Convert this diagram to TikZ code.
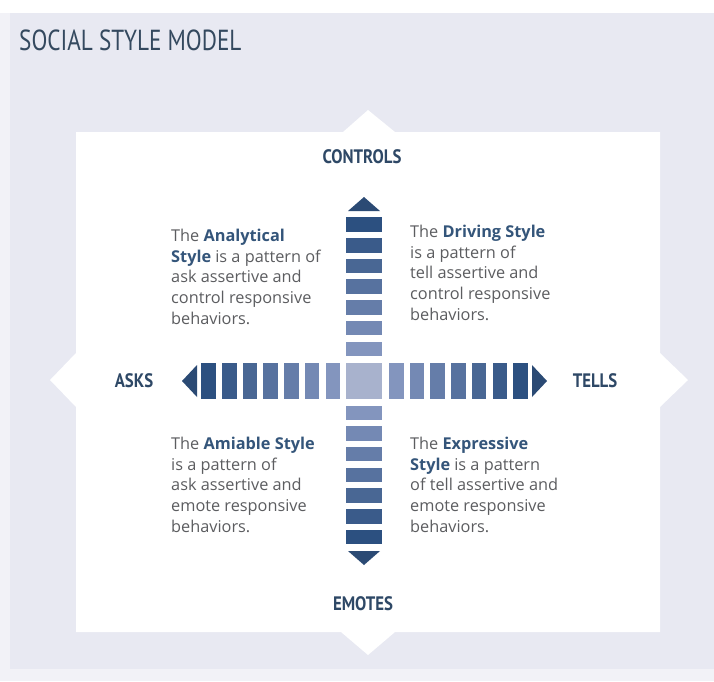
\documentclass[tikz,border=0pt]{standalone}
\usepackage{fontspec}
\setmainfont{Open Sans}
\newfontfamily\labelfont[FakeStretch=0.86]{PT Sans}
\newfontfamily\titlefont[FakeStretch=0.80]{PT Sans}
\definecolor{pagebg}{HTML}{E8E9F2}
\definecolor{pageedge}{HTML}{F2F2F7}
\definecolor{titleblue}{HTML}{34495F}
\definecolor{labelblue}{HTML}{2E4866}
\definecolor{bodygray}{HTML}{5C5D60}
\definecolor{namesblue}{HTML}{34557A}
\definecolor{bardark}{HTML}{2C5080}
\definecolor{barlight}{HTML}{8395BE}
\definecolor{barcenter}{HTML}{A8B2CD}
\definecolor{arrowblue}{HTML}{2B4A74}
\tikzset{
  axislabel/.style={font={\labelfont\bfseries\fontsize{19.5}{22}\selectfont}, text=labelblue, inner sep=0pt},
  stylepara/.style={font={\fontsize{16.3}{20.7}\selectfont}, text=bodygray, align=left, inner sep=0pt, anchor=north west},
}
\newcommand{\stylename}[1]{\textcolor{namesblue}{\bfseries #1}}
\begin{document}
\begin{tikzpicture}[x=1pt,y=-1pt]
\useasboundingbox (0,0) rectangle (714,681);
% page background
\fill[pageedge] (0,0) rectangle (714,681);
\fill[white] (0,0) rectangle (714,13);
\fill[pagebg] (10,13) rectangle (714,669);
% white panel with a pointed tab on each side
\fill[white] (76,132) -- (343,132) -- (368,110) -- (395,132) -- (660,132)
  -- (660,353) -- (688,380) -- (660,407) -- (660,632)
  -- (395,632) -- (368,655) -- (341,632) -- (76,632)
  -- (76,407) -- (50,380) -- (76,353) -- cycle;
% title
\node[font={\titlefont\fontsize{29}{32}\selectfont}, text=titleblue, anchor=west, inner sep=0pt] (title) at (19,40) {SOCIAL STYLE MODEL};
% centre square
\fill[barcenter] (346,363) rectangle (382,399);
% bars, shading from light (inner) to dark (outer)
\foreach \i in {1,...,7}{
  \pgfmathtruncatemacro{\p}{100-(\i-1)*100/6}
  \colorlet{barc}{barlight!\p!bardark}
  \pgfmathsetmacro{\off}{(\i-1)*20.7}
  % up
  \fill[barc] (346,{356-\off}) rectangle (382,{341.5-\off});
  % down
  \fill[barc] (346,{405.5+\off}) rectangle (382,{420+\off});
  % left
  \fill[barc] ({340-\off},363) rectangle ({325.5-\off},399);
  % right
  \fill[barc] ({389+\off},363) rectangle ({403.5+\off},399);
}
% arrow heads
\fill[arrowblue] (348,211) -- (364,197) -- (380,211) -- cycle;
\fill[arrowblue] (348,551) -- (364,565) -- (380,551) -- cycle;
\fill[arrowblue] (197,365) -- (182,381) -- (197,397) -- cycle;
\fill[arrowblue] (532,365) -- (547,381) -- (532,397) -- cycle;
% axis labels
\node[axislabel] (controls) at (362,157) {CONTROLS};
\node[axislabel] (emotes) at (363,604) {EMOTES};
\node[axislabel] (asks) at (134,381) {ASKS};
\node[axislabel] (tells) at (595,381) {TELLS};
% quadrant descriptions
\node[stylepara] (analytical) at (171,229) {The \stylename{Analytical}\\\stylename{Style} is a pattern of\\ask assertive and\\control responsive\\behaviors.};
\node[stylepara] (driving) at (410,225) {The \stylename{Driving Style}\\is a pattern of\\tell assertive and\\control responsive\\behaviors.};
\node[stylepara] (amiable) at (171,437) {The \stylename{Amiable Style}\\is a pattern of\\ask assertive and\\emote responsive\\behaviors.};
\node[stylepara] (expressive) at (410,437) {The \stylename{Expressive}\\\stylename{Style} is a pattern\\of tell assertive and\\emote responsive\\behaviors.};
\end{tikzpicture}
\end{document}
